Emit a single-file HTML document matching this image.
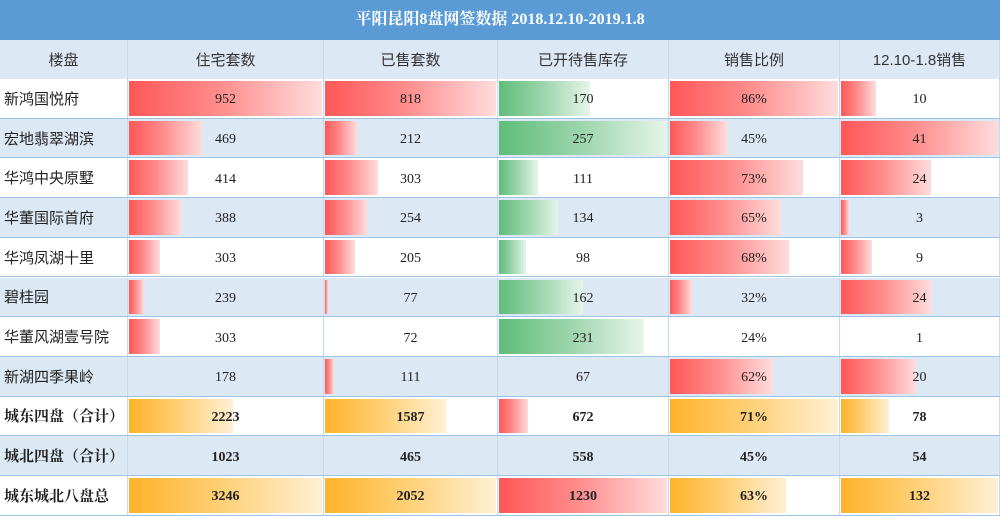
<!DOCTYPE html>
<html><head><meta charset="utf-8">
<style>
body{margin:0;width:1000px;height:516px;overflow:hidden;background:#fff;font-family:"Liberation Serif","Noto Serif CJK SC",serif;}
#t{position:relative;width:1000px;height:516px;}
.title{position:absolute;left:0;top:0;width:1000px;height:40px;background:#5b9bd5;color:#fff;font-weight:bold;font-size:16px;line-height:40px;text-align:center;font-family:"Liberation Serif","Noto Serif CJK SC",serif;}
.row{position:absolute;left:0;width:1000px;border-bottom:1px solid #9dc3e6;box-sizing:border-box;}
.cell{position:absolute;top:0;height:100%;box-sizing:border-box;border-right:1px solid #c9d9ec;}
.bar{position:absolute;left:1px;top:2px;bottom:2px;}
.txt{position:absolute;left:0;right:0;top:4px;bottom:0;display:flex;align-items:center;justify-content:center;font-size:14px;color:#222;}
.name .txt{top:0;justify-content:flex-start;padding-left:4px;font-family:"Liberation Sans","Noto Sans CJK SC",sans-serif;font-size:15px;}
.hdr .txt{top:0;font-family:"Liberation Sans","Noto Sans CJK SC",sans-serif;font-size:15px;color:#333;}
.bold .txt{font-weight:bold;font-family:"Liberation Serif","Noto Serif CJK SC",serif;}
</style></head><body>
<div id="t">
<div class="title">平阳昆阳8盘网签数据 2018.12.10-2019.1.8</div>
</div>
<script>
const headers=["楼盘","住宅套数","已售套数","已开待售库存","销售比例","12.10-1.8销售"];
const names=["新鸿国悦府","宏地翡翠湖滨","华鸿中央原墅","华董国际首府","华鸿凤湖十里","碧桂园","华董风湖壹号院","新湖四季果岭","城东四盘（合计）","城北四盘（合计）","城东城北八盘总"];
const units=[952,469,414,388,303,239,303,178,2223,1023,3246];
const sold=[818,212,303,254,205,77,72,111,1587,465,2052];
const stock=[170,257,111,134,98,162,231,67,672,558,1230];
const ratio=[86,45,73,65,68,32,24,62,71,45,63];
const recent=[10,41,24,3,9,24,1,20,78,54,132];
const cols=[units,sold,stock,ratio,recent];
const colNames=["units","sold","stock","ratio","recent"];
const colX=[0,128,324,498,669,840,1000];
const RED="linear-gradient(90deg,#ff5757,#ff8a8a 45%,#ffdcdc)";
const GREEN="linear-gradient(90deg,#5fbd7a,#9ed6ad 50%,#e6f5ea)";
const ORANGE="linear-gradient(90deg,#ffb32b,#ffd17a 50%,#fff0d4)";
const t=document.getElementById('t');
const rowTop=i=>79+i*39.7;
const h=document.createElement('div');
h.className='row hdr';h.style.top='40px';h.style.height='40px';h.style.background='#dde8f5';


headers.forEach((s,c)=>{const d=document.createElement('div');d.className='cell';d.style.left=colX[c]+'px';d.style.width=(colX[c+1]-colX[c])+'px';


d.innerHTML='<div class="txt">'+s+'</div>';h.appendChild(d);});
t.appendChild(h);
function scale(arr,from,to){const s=arr.slice(from,to);return [Math.min(...s),Math.max(...s)];}
names.forEach((n,i)=>{
  const r=document.createElement('div');
  r.className='row'+(i>=8?' bold':'');
  const top=rowTop(i),bot=rowTop(i+1);
  r.style.top=top+'px';r.style.height=(bot-top)+'px';
  r.style.background=(i%2==1)?'#dde8f5':'#fff';
  
  
  const nc=document.createElement('div');nc.className='cell name';nc.style.left='0px';nc.style.width='128px';
  
  
  nc.innerHTML='<div class="txt">'+n+'</div>';r.appendChild(nc);
  cols.forEach((arr,c)=>{
    const cell=document.createElement('div');cell.className='cell';
    const x0=colX[c+1],w=colX[c+2]-x0;
    cell.style.left=x0+'px';cell.style.width=w+'px';
    
    
    const grp=i<8?[0,8]:[8,11];
    const [mn,mx]=scale(arr,grp[0],grp[1]);
    const f=(arr[i]-mn)/(mx-mn);
    if(f>0){const b=document.createElement('div');b.className='bar';
      
      
      b.style.width=Math.max(3,f*(w-3))+'px';
      b.style.background=i<8?(c==2?GREEN:RED):(c==2?RED:ORANGE);
      cell.appendChild(b);}
    const tx=document.createElement('div');tx.className='txt';
    tx.textContent=arr[i]+(c==3?'%':'');cell.appendChild(tx);
    r.appendChild(cell);
  });
  t.appendChild(r);
});
</script>
</body></html>
